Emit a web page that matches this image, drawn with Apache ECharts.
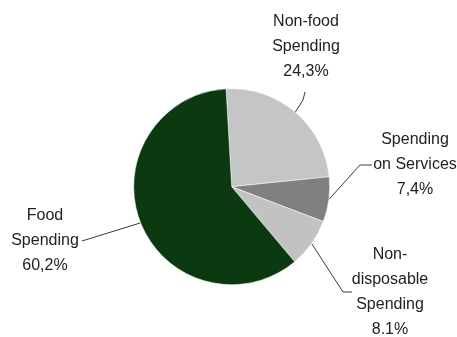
<!DOCTYPE html>
<html>
<head>
<meta charset="utf-8">
<script src="https://cdn.jsdelivr.net/npm/echarts@6/dist/echarts.min.js"></script>
<style>
html,body{margin:0;padding:0;background:#fff;}
#c{width:457px;height:337px;}
</style>
</head>
<body>
<div id="c"></div>
<script>
var categories = ['Non-food\nSpending', 'Spending\non Services', 'Non-\ndisposable\nSpending', 'Food\nSpending'];
var values = [24.3, 7.4, 8.1, 60.2];
var valueLabels = ['24,3%', '7,4%', '8.1%', '60,2%'];
var colors = ['#c5c5c5', '#808080', '#c2c2c2', '#0c3a10'];

// label block centres and leader-line bends (layout only)
var labelPos = [[306, 47], [415, 165], [390, 292], [45, 241]];
var lineBends = [
  [[303, 100], [305, 92]],
  [[360, 165], [372, 165]],
  [[343, 292], [352, 292]],
  [[82, 241]]
];

var chart = echarts.init(document.getElementById('c'), null, {renderer: 'canvas'});
var data = categories.map(function (n, i) {
  return {name: n, value: values[i], itemStyle: {color: colors[i]}};
});
chart.setOption({
  animation: false,
  backgroundColor: '#fff',
  series: [{
    type: 'pie',
    center: [231.7, 186.7],
    radius: 98,
    startAngle: 93.3,
    clockwise: true,
    data: data,
    itemStyle: {borderColor: '#ffffff', borderWidth: 0.5},
    label: {
      show: true,
      position: 'outside',
      overflow: 'none',
      formatter: function (p) { return p.name + '\n' + valueLabels[p.dataIndex]; },
      fontFamily: 'Liberation Sans, Arial, sans-serif',
      fontSize: 16,
      lineHeight: 25,
      color: '#222222',
      align: 'center'
    },
    labelLine: {show: true, lineStyle: {color: '#3a3a3a', width: 1}},
    labelLayout: function (params) {
      var i = params.dataIndex;
      var p0 = params.labelLinePoints ? params.labelLinePoints[0] : null;
      var res = {x: labelPos[i][0], y: labelPos[i][1], align: 'center', verticalAlign: 'middle'};
      if (p0) res.labelLinePoints = [p0].concat(lineBends[i]);
      return res;
    }
  }]
});
</script>
</body>
</html>
